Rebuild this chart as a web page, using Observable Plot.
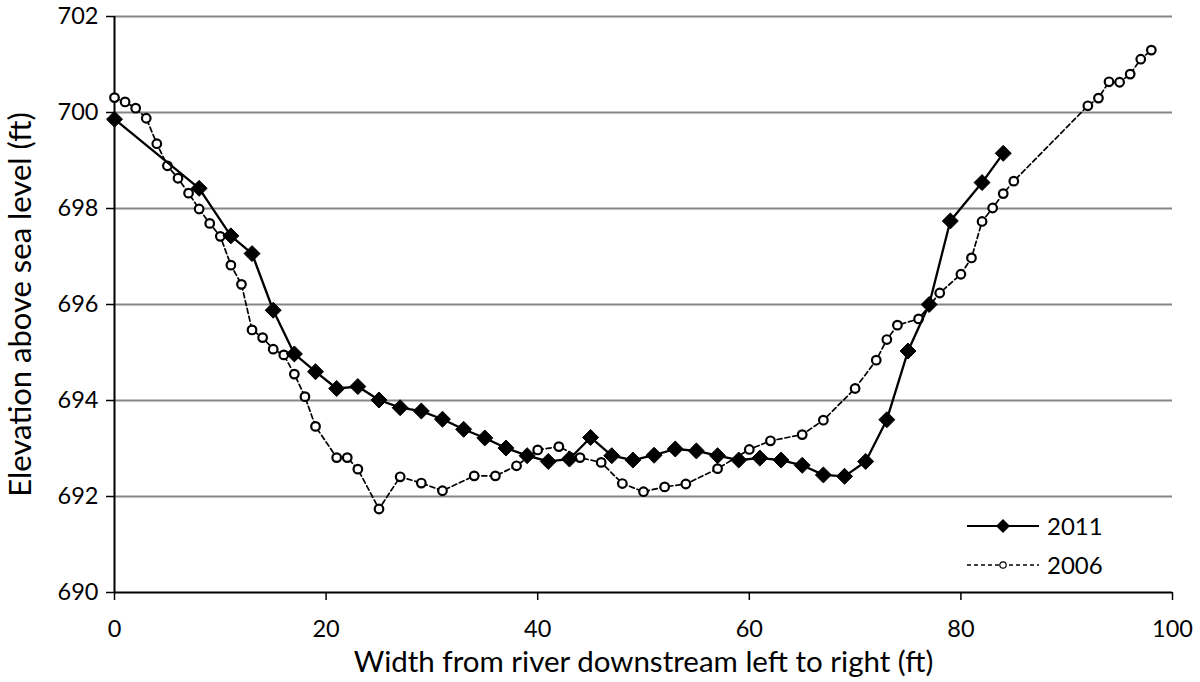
<!DOCTYPE html>
<html>
<head>
<meta charset="utf-8">
<script src="https://cdn.jsdelivr.net/npm/d3@7"></script>
<script src="https://cdn.jsdelivr.net/npm/@observablehq/plot@0.6"></script>
<style>
  html, body { margin: 0; padding: 0; background: #fff; }
  #wrap { position: relative; width: 1200px; height: 682px; overflow: hidden; font-family: Lato, "Liberation Sans", sans-serif; }
  #legend { position: absolute; left: 967px; top: 506px; font-size: 24px; color: #000; }
  #legend .row { display: flex; align-items: center; height: 39px; }
  #legend svg { margin-right: 8px; }
</style>
</head>
<body>
<div id="wrap"></div>
<script>
// ---- data ----
const x2011 = [0,8,11,13,15,17,19,21,23,25,27,29,31,33,35,37,39,41,43,45,47,49,51,53,55,57,59,61,63,65,67,69,71,73,75,77,79,82,84];
const y2011 = [699.86,698.42,697.43,697.06,695.88,694.97,694.60,694.25,694.29,694.01,693.85,693.78,693.61,693.40,693.22,693.01,692.85,692.73,692.78,693.23,692.85,692.76,692.86,692.99,692.95,692.85,692.76,692.80,692.76,692.65,692.45,692.42,692.73,693.60,695.03,696.00,697.74,698.54,699.15];
const x2006 = [0,1,2,3,4,5,6,7,8,9,10,11,12,13,14,15,16,17,18,19,21,22,23,25,27,29,31,34,36,38,40,42,44,46,48,50,52,54,57,60,62,65,67,70,72,73,74,76,78,80,81,82,83,84,85,92,93,94,95,96,97,98];
const y2006 = [700.31,700.22,700.09,699.88,699.35,698.89,698.63,698.32,697.99,697.69,697.42,696.82,696.42,695.47,695.31,695.07,694.95,694.55,694.08,693.46,692.81,692.81,692.57,691.74,692.41,692.28,692.12,692.43,692.43,692.64,692.97,693.04,692.81,692.71,692.27,692.10,692.20,692.26,692.58,692.98,693.16,693.29,693.59,694.25,694.84,695.27,695.57,695.70,696.24,696.63,696.97,697.73,698.01,698.31,698.57,700.14,700.30,700.64,700.63,700.80,701.11,701.30];
const xTicks = [0,20,40,60,80,100];
const yTicks = [690,692,694,696,698,700,702];
const xLabel = "Width from river downstream left to right (ft)";
const yLabel = "Elevation above sea level (ft)";
const seriesNames = ["2011","2006"];

const d2011 = x2011.map((x,i)=>({x, y:y2011[i]}));
const d2006 = x2006.map((x,i)=>({x, y:y2006[i]}));

const chart = Plot.plot({
  width: 1200,
  height: 682,
  marginLeft: 114,
  marginRight: 28,
  marginTop: 16,
  marginBottom: 90,
  style: { fontFamily: "Lato, 'Liberation Sans', sans-serif", fontSize: "21px", color: "#000", background: "#fff", overflow: "visible" },
  x: { domain: [0,100] },
  y: { domain: [690,702] },
  marks: [
    Plot.gridY(yTicks.filter(t => t > 690), { stroke: "#868686", strokeWidth: 2, strokeOpacity: 1 }),
    Plot.ruleX([0], { stroke: "#000", strokeWidth: 2 }),
    Plot.ruleY([690], { stroke: "#000", strokeWidth: 2 }),
    Plot.axisX(xTicks, { tickSize: 8, tickPadding: 20, fontSize: 23.5, strokeWidth: 1.5, label: null }),
    Plot.axisX({ ticks: [], tickSize: 0, label: xLabel, labelAnchor: "center", labelArrow: "none", labelOffset: 79, fontSize: 29.5 }),
    Plot.axisY(yTicks, { tickSize: 8, tickPadding: 8, fontSize: 23.5, strokeWidth: 1.5, label: null }),
    Plot.axisY({ ticks: [], tickSize: 0, label: yLabel, labelAnchor: "center", labelArrow: "none", labelOffset: 106, fontSize: 31 }),
    Plot.line(d2006, { x: "x", y: "y", stroke: "#000", strokeWidth: 1.7, strokeDasharray: "5,3" }),
    Plot.dot(d2006, { x: "x", y: "y", r: 4.3, fill: "#fff", stroke: "#000", strokeWidth: 2.2 }),
    Plot.line(d2011, { x: "x", y: "y", stroke: "#000", strokeWidth: 2.3 }),
    Plot.dot(d2011, { x: "x", y: "y", symbol: "diamond2", r: 7.2, fill: "#000", stroke: "#000", strokeWidth: 1 })
  ]
});
const wrap = document.getElementById("wrap");
wrap.appendChild(chart);

// legend (HTML overlay)
const legend = document.createElement("div");
legend.id = "legend";
legend.innerHTML = `
  <div class="row"><svg width="72" height="20"><line x1="0" y1="10" x2="72" y2="10" stroke="#000" stroke-width="2.2"/><path d="M36,3 L43,10 L36,17 L29,10 Z" fill="#000"/></svg><span>${seriesNames[0]}</span></div>
  <div class="row"><svg width="72" height="20"><line x1="0" y1="10" x2="72" y2="10" stroke="#000" stroke-width="1.4" stroke-dasharray="4,3"/><circle cx="36" cy="10" r="3.2" fill="#fff" stroke="#000" stroke-width="1.2"/></svg><span>${seriesNames[1]}</span></div>`;
wrap.appendChild(legend);
</script>
</body>
</html>
